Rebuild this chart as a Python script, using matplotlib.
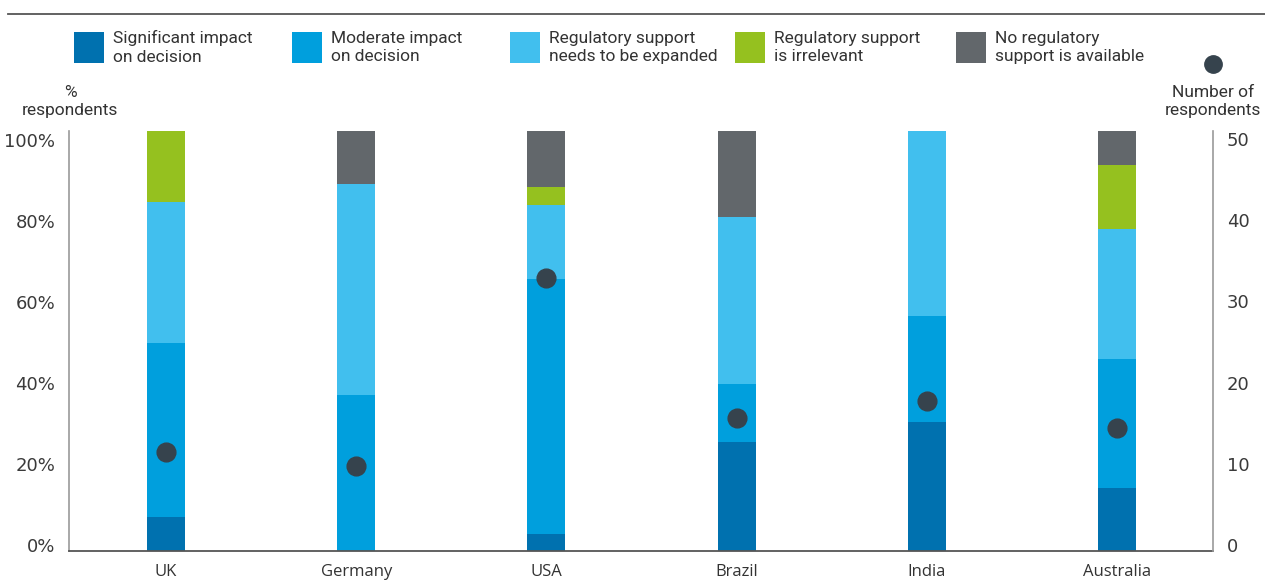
import numpy as np
import matplotlib
matplotlib.use("Agg")
import matplotlib.pyplot as plt
from matplotlib.patches import Rectangle
from matplotlib.lines import Line2D

# ---- data ----
countries = ["UK", "Germany", "USA", "Brazil", "India", "Australia"]
significant = [8.1, 0.0, 4.0, 26.0, 30.7, 15.0]
moderate = [41.4, 37.2, 60.8, 13.8, 25.3, 30.7]
expand = [33.7, 50.2, 17.6, 39.7, 44.0, 31.0]
irrelevant = [16.8, 0.0, 4.3, 0.0, 0.0, 15.2]
unavailable = [0.0, 12.6, 13.3, 20.5, 0.0, 8.1]
respondents = [11.8, 10.1, 32.5, 15.8, 17.8, 14.7]

series_labels = [
    "Significant impact\non decision",
    "Moderate impact\non decision",
    "Regulatory support\nneeds to be expanded",
    "Regulatory support\nis irrelevant",
    "No regulatory\nsupport is available",
]
pct_ticks = ["0%", "20%", "40%", "60%", "80%", "100%"]
count_ticks = ["0", "10", "20", "30", "40", "50"]

# ---- style ----
colors = ["#0071AF", "#009FDD", "#41BFEE", "#95C11F", "#62676B"]
dot_color = "#36434D"
text_color = "#333333"
label_font = "Roboto"
num_font = "DejaVu Sans"

W, H = 1265, 580
fig = plt.figure(figsize=(W / 100, H / 100), dpi=100)

ax = fig.add_axes([69 / W, 29 / H, 1144 / W, 420 / H])
x = np.arange(len(countries))
bar_w = 0.2

bottom = np.zeros(len(countries))
for vals, c in zip([significant, moderate, expand, irrelevant, unavailable], colors):
    vals = np.asarray(vals, dtype=float)
    ax.bar(x, vals, bar_w, bottom=bottom, color=c, linewidth=0, zorder=2)
    bottom += vals

ax.set_xlim(-0.51, 5.505)
ax.set_ylim(0, 100)
ax.set_xticks(x)
ax.set_xticklabels(countries, fontsize=12, color=text_color, family="Open Sans")
ax.set_yticks(np.linspace(1.4, 97.9, 6))
ax.set_yticklabels(pct_ticks, fontsize=13, color="#3a3a3a", family=num_font)
ax.tick_params(axis="both", length=0)
ax.tick_params(axis="y", pad=10)
ax.tick_params(axis="x", pad=9)

for s in ["top", "right"]:
    ax.spines[s].set_visible(False)
ax.spines["left"].set_color("#9a9a9a")
ax.spines["left"].set_linewidth(1.2)
ax.spines["bottom"].set_color("#555555")
ax.spines["bottom"].set_linewidth(1.3)

# respondent counts on the secondary axis
ax2 = ax.twinx()
ax2.set_ylim(0, 50)
ax2.plot(x, respondents, linestyle="none", marker="o", markersize=13.5,
         color=dot_color, zorder=3)
ax2.set_yticks(np.linspace(0.7, 49.05, 6))
ax2.set_yticklabels(count_ticks, fontsize=13, color="#3a3a3a", family=num_font)
ax2.tick_params(axis="y", length=0, pad=10)
for s in ["top", "left", "bottom"]:
    ax2.spines[s].set_visible(False)
ax2.spines["right"].set_color("#9a9a9a")
ax2.spines["right"].set_linewidth(1.2)

# top rule
fig.add_artist(Line2D([8 / W, 1.0], [1 - 14 / H, 1 - 14 / H],
                      color="#555555", linewidth=1.3, transform=fig.transFigure))

# legend
legend_x = [74, 292, 510, 735, 956]
for lx, c, lab in zip(legend_x, colors, series_labels):
    fig.add_artist(Rectangle((lx / W, 1 - 63 / H), 30 / W, 31 / H,
                             facecolor=c, edgecolor="none",
                             transform=fig.transFigure))
    fig.text((lx + 39) / W, 1 - 47.5 / H, lab, fontsize=12.5, color=text_color,
             family=label_font, va="center", ha="left", linespacing=1.3)

fig.add_artist(Line2D([1213 / W], [1 - 64 / H], marker="o", markersize=12.5,
                      color=dot_color, linestyle="none",
                      transform=fig.transFigure))
fig.text(1213 / W, 1 - 101.5 / H, "Number of\nrespondents", fontsize=12.5,
         color=text_color, family=label_font, ha="center", va="center",
         linespacing=1.3)
fig.text(70 / W, 1 - 101.5 / H, "%\nrespondents", fontsize=12.5,
         color=text_color, family=label_font, ha="center", va="center",
         linespacing=1.3)

fig.savefig("out.png", dpi=100)
